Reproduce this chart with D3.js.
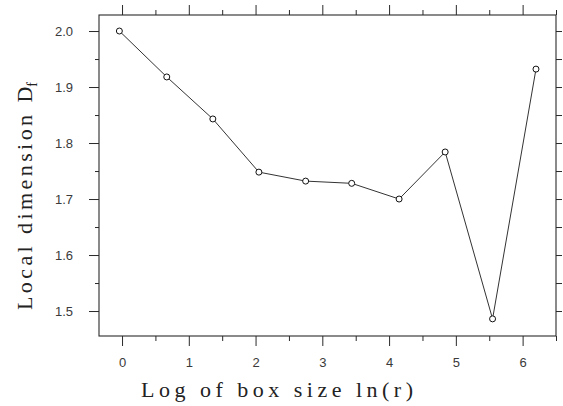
<!DOCTYPE html>
<html>
<head>
<meta charset="utf-8">
<script src="https://cdn.jsdelivr.net/npm/d3@7"></script>
<style>
  html, body { margin: 0; padding: 0; background: #fff; }
  svg { display: block; }
</style>
</head>
<body>
<svg id="chart" width="563" height="406"></svg>
<script>
// Log of box size ln(r) and the local fractal dimension measured at each scale
const logBoxSize = [-0.04, 0.67, 1.36, 2.05, 2.75, 3.44, 4.15, 4.84, 5.55, 6.20];
const localDimension = [2.000, 1.918, 1.843, 1.748, 1.732, 1.728, 1.700, 1.784, 1.486, 1.932];

const xMajorTicks = [0, 1, 2, 3, 4, 5, 6];
const xMinorTicks = [0.5, 1.5, 2.5, 3.5, 4.5, 5.5, 6.5];
const yMajorTicks = [1.5, 1.6, 1.7, 1.8, 1.9, 2.0];
const yMinorTicks = [1.55, 1.65, 1.75, 1.85, 1.95];
const yRightTicks = [1.5, 1.55, 1.6, 1.65, 1.7, 1.75, 1.8, 1.85, 1.9, 1.95, 2.0];

const xTitle = "Log of box size ln(r)";
const yTitle = "Local dimension ";
const yTitleSymbol = "D";
const yTitleSub = "f";

const svg = d3.select("#chart");
const plot = { left: 99, top: 15, right: 556, bottom: 336 };
const ink = "#2a2a2a";

const x = d3.scaleLinear().domain([-0.345, 6.5]).range([plot.left, plot.right]);
const y = d3.scaleLinear().domain([1.4554, 2.0286]).range([plot.bottom, plot.top]);

// Frame
svg.append("rect")
  .attr("x", plot.left).attr("y", plot.top)
  .attr("width", plot.right - plot.left).attr("height", plot.bottom - plot.top)
  .attr("fill", "none").attr("stroke", ink).attr("stroke-width", 1.1);

function styleAxis(g) {
  g.select(".domain").remove();
  g.selectAll(".tick line").attr("stroke", ink).attr("stroke-width", 1);
  g.selectAll(".tick text")
    .attr("fill", "#3a3a3a")
    .style("font-family", "'Liberation Sans', Arial, sans-serif")
    .style("font-size", "13px");
}

// Bottom axis: labelled major ticks and short minor ticks
svg.append("g").attr("transform", `translate(0,${plot.bottom})`)
  .call(d3.axisBottom(x).tickValues(xMajorTicks).tickSize(10).tickPadding(12).tickFormat(d3.format("d")))
  .call(styleAxis);
svg.append("g").attr("transform", `translate(0,${plot.bottom})`)
  .call(d3.axisBottom(x).tickValues(xMinorTicks).tickSize(5).tickFormat(""))
  .call(styleAxis);

// Top axis mirrors the bottom ticks without labels
svg.append("g").attr("transform", `translate(0,${plot.top})`)
  .call(d3.axisTop(x).tickValues(xMajorTicks).tickSize(10).tickFormat(""))
  .call(styleAxis);
svg.append("g").attr("transform", `translate(0,${plot.top})`)
  .call(d3.axisTop(x).tickValues(xMinorTicks).tickSize(5).tickFormat(""))
  .call(styleAxis);

// Left axis
svg.append("g").attr("transform", `translate(${plot.left},0)`)
  .call(d3.axisLeft(y).tickValues(yMajorTicks).tickSize(10).tickPadding(16).tickFormat(d3.format(".1f")))
  .call(styleAxis);
svg.append("g").attr("transform", `translate(${plot.left},0)`)
  .call(d3.axisLeft(y).tickValues(yMinorTicks).tickSize(4).tickFormat(""))
  .call(styleAxis);

// Right axis: evenly spaced short ticks
svg.append("g").attr("transform", `translate(${plot.right},0)`)
  .call(d3.axisRight(y).tickValues(yRightTicks).tickSize(6).tickFormat(""))
  .call(styleAxis);

// Data line and open circle markers
const points = logBoxSize.map((v, i) => [v, localDimension[i]]);
svg.append("path")
  .datum(points)
  .attr("fill", "none")
  .attr("stroke", "#333")
  .attr("stroke-width", 1)
  .attr("d", d3.line().x(d => x(d[0])).y(d => y(d[1])));

svg.append("g").selectAll("circle")
  .data(points)
  .join("circle")
  .attr("cx", d => x(d[0]))
  .attr("cy", d => y(d[1]))
  .attr("r", 3)
  .attr("fill", "#fff")
  .attr("stroke", "#111")
  .attr("stroke-width", 1);

// Axis titles
const titleFont = "'Liberation Serif', 'DejaVu Serif', serif";
svg.append("text")
  .attr("x", 141).attr("y", 397)
  .attr("textLength", 272).attr("lengthAdjust", "spacing")
  .attr("fill", "#222")
  .style("font-family", titleFont)
  .style("font-size", "22px")
  .text(xTitle);

const yt = svg.append("text")
  .attr("transform", "translate(32,310) rotate(-90)")
  .attr("fill", "#222")
  .style("font-family", titleFont)
  .style("font-size", "22px");
yt.append("tspan").attr("textLength", 204).attr("lengthAdjust", "spacing").text(yTitle);
yt.append("tspan").text(yTitleSymbol);
yt.append("tspan").attr("dy", 5).style("font-size", "14px").text(yTitleSub);
</script>
</body>
</html>
